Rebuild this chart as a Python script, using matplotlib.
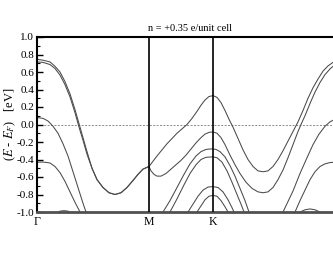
import matplotlib
matplotlib.use("Agg")
import matplotlib.pyplot as plt
from matplotlib.ticker import MultipleLocator

plt.rcParams['font.family'] = ['Liberation Serif', 'DejaVu Serif']
plt.rcParams['mathtext.fontset'] = 'stix'

# k-path coordinate (arbitrary units): Gamma=0, M=112, K=176, Gamma=306
sym_pos = [0, 112, 176]
sym_lab = ['Γ', 'M', 'K']
k_end = 306

kA = [0, 6, 13, 18, 23, 28, 33, 38, 42, 46, 50, 55, 60, 66, 72, 78, 84, 90, 96, 101, 106, 112,
      116, 120, 125, 130, 135, 140, 145, 150, 155, 160, 164, 168, 172, 176,
      180, 184, 188, 192, 196, 201, 206, 211, 216, 221, 226, 231, 236, 241, 246, 251, 256, 261,
      266, 271, 276, 281, 286, 291, 296, 301, 306]
eA = [0.745, 0.735, 0.715, 0.665, 0.60, 0.49, 0.35, 0.17, 0.01, -0.15, -0.31, -0.50, -0.63, -0.72, -0.78,
      -0.80, -0.78, -0.72, -0.64, -0.57, -0.51, -0.48,
      -0.42, -0.36, -0.29, -0.22, -0.16, -0.10, -0.05, 0.0, 0.07, 0.15, 0.22, 0.28, 0.32, 0.33,
      0.31, 0.25, 0.16, 0.06, -0.03, -0.16, -0.29, -0.40, -0.48, -0.53, -0.54, -0.53, -0.48, -0.40,
      -0.30, -0.19, -0.08, 0.03, 0.16, 0.30, 0.42, 0.52, 0.61, 0.67, 0.71, 0.735, 0.745]

kB = [0, 6, 13, 18, 23, 28, 33, 38, 42, 46, 50, 55, 60, 66, 72, 78, 84, 90, 96, 101, 106, 112,
      114, 117, 120, 124, 129, 134, 139, 144, 149, 154, 159, 164, 168, 172, 176,
      180, 184, 188, 193, 198, 203, 209, 215, 221, 226, 231, 236, 241, 246, 251, 256, 261, 264,
      268, 273, 278, 283, 288, 293, 298, 302, 306]
eB = [0.715, 0.71, 0.685, 0.64, 0.565, 0.455, 0.315, 0.135, -0.03, -0.18, -0.34, -0.50, -0.63, -0.72,
      -0.78, -0.80, -0.78, -0.72, -0.64, -0.57, -0.51, -0.48,
      -0.53, -0.57, -0.59, -0.59, -0.56, -0.51, -0.46, -0.41, -0.35, -0.28, -0.21, -0.15, -0.11,
      -0.09, -0.085,
      -0.10, -0.15, -0.23, -0.35, -0.46, -0.56, -0.66, -0.73, -0.77, -0.78, -0.77, -0.72, -0.63,
      -0.52, -0.38, -0.23, -0.08, 0.0, 0.10, 0.24, 0.37, 0.48, 0.57, 0.635, 0.685, 0.705, 0.715]

kC1 = [0, 6, 11, 16, 21, 26, 31, 36, 41, 46, 49, 51]
eC1 = [0.08, 0.07, 0.04, -0.02, -0.10, -0.22, -0.36, -0.54, -0.72, -0.90, -1.0, -1.05]
kC2 = [243, 246, 251, 256, 263, 270, 276, 282, 288, 293, 298, 302, 306]
eC2 = [-1.05, -1.0, -0.88, -0.76, -0.56, -0.38, -0.23, -0.11, -0.02, 0.03, 0.06, 0.075, 0.08]

kD1 = [0, 7, 13, 18, 23, 28, 33, 38, 43, 45]
eD1 = [-0.43, -0.43, -0.44, -0.48, -0.55, -0.65, -0.77, -0.89, -1.0, -1.05]
kD2 = [255, 258, 263, 268, 273, 278, 283, 288, 293, 299, 306]
eD2 = [-1.05, -1.0, -0.87, -0.75, -0.63, -0.54, -0.48, -0.45, -0.435, -0.43, -0.43]

kE1 = [123, 126, 133, 140, 147, 153, 159, 164, 169, 173, 176, 179, 183, 188, 193, 198, 203, 208, 212, 214]
eE1 = [-1.05, -1.0, -0.87, -0.72, -0.57, -0.45, -0.36, -0.31, -0.285, -0.28, -0.28, -0.285, -0.31,
       -0.37, -0.47, -0.59, -0.73, -0.87, -1.0, -1.05]
kE2 = [130, 133, 140, 147, 153, 159, 164, 169, 176, 180, 185, 190, 195, 200, 204, 207, 209]
eE2 = [-1.05, -1.0, -0.85, -0.69, -0.56, -0.46, -0.40, -0.375, -0.37, -0.38, -0.43, -0.53, -0.66,
       -0.80, -0.91, -1.0, -1.05]
kE3 = [149, 151, 156, 161, 166, 171, 176, 181, 186, 191, 195, 197, 199]
eE3 = [-1.05, -1.0, -0.91, -0.82, -0.75, -0.715, -0.71, -0.72, -0.77, -0.86, -0.95, -1.0, -1.05]
kE4 = [157, 160, 164, 168, 172, 176, 180, 184, 188, 191, 193]
eE4 = [-1.05, -1.0, -0.93, -0.86, -0.82, -0.81, -0.82, -0.87, -0.94, -1.0, -1.05]

kF1 = [19, 23, 27, 31, 35]
eF1 = [-1.02, -0.99, -0.985, -0.99, -1.02]
kF2 = [259, 263, 268, 273, 278, 283, 287]
eF2 = [-1.05, -1.0, -0.975, -0.965, -0.975, -1.0, -1.05]

bands = [(kA, eA), (kB, eB), (kC1, eC1), (kC2, eC2), (kD1, eD1), (kD2, eD2),
         (kE1, eE1), (kE2, eE2), (kE3, eE3), (kE4, eE4), (kF1, eF1), (kF2, eF2)]

fig = plt.figure(figsize=(3.33, 2.58), dpi=100)
W, H = 333, 258
ax = fig.add_axes([37 / W, 1 - 212 / H, 306 / W, 175 / H])

for k, e in bands:
    ax.plot(k, e, color='#4a4a4a', lw=0.75, solid_joinstyle='round')

ax.axhline(0, color='#8a8a8a', lw=0.7, ls=(0, (2, 1.5)), zorder=1)
for p in sym_pos[1:]:
    ax.axvline(p, color='black', lw=1.2, zorder=3)

ax.set_xlim(0, k_end)
ax.set_ylim(-1.0, 1.0)
ax.set_xticks(sym_pos)
ax.set_xticklabels(sym_lab, fontsize=8.5)
ax.tick_params(axis='x', length=0, pad=3)
ax.yaxis.set_minor_locator(MultipleLocator(0.1))
ax.set_yticks([-1.0, -0.8, -0.6, -0.4, -0.2, 0.0, 0.2, 0.4, 0.6, 0.8, 1.0])
ax.set_yticklabels(['-1.0', '-0.8', '-0.6', '-0.4', '-0.2', '0.0', '0.2', '0.4', '0.6', '0.8', '1.0'],
                   fontsize=8)
ax.tick_params(axis='y', which='major', direction='in', length=4, width=1, pad=2)
ax.tick_params(axis='y', which='minor', direction='in', length=2, width=0.8)

for s in ['left', 'top']:
    ax.spines[s].set_linewidth(1.5)
ax.spines['bottom'].set_linewidth(2.0)
ax.spines['bottom'].set_color('#505050')
ax.spines['right'].set_visible(False)

ax.set_title('n = +0.35 e/unit cell', fontsize=7.5, pad=4)
ax.set_ylabel(r'($E$ - $E_F$)   [eV]', fontsize=9)
ax.yaxis.set_label_coords(-0.063, 0.5)

fig.savefig('out.png', dpi=100)
